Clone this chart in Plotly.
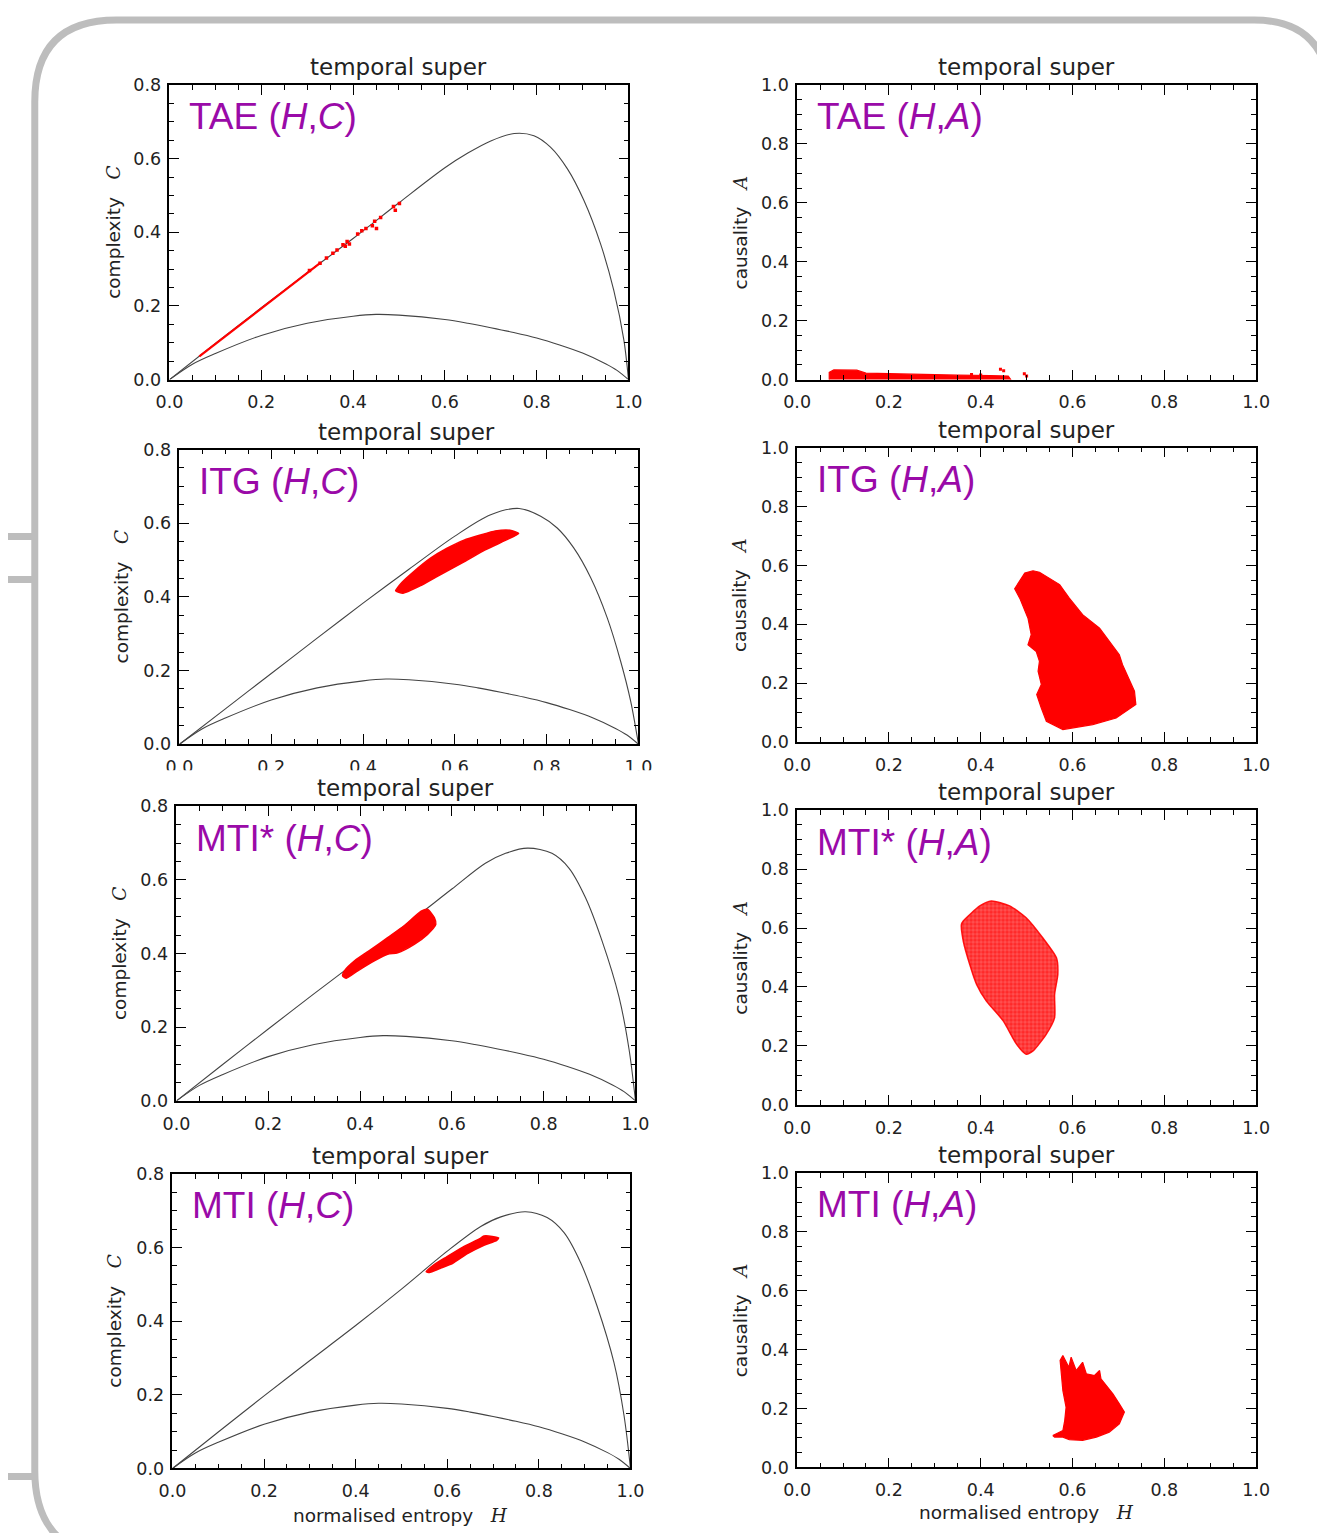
import plotly.graph_objects as go

# ---------------- data ----------------
h_tick_vals = [0.0, 0.2, 0.4, 0.6, 0.8, 1.0]
h_tick_text = ["0.0", "0.2", "0.4", "0.6", "0.8", "1.0"]
c_tick_vals = [0.0, 0.2, 0.4, 0.6, 0.8]
c_tick_text = ["0.0", "0.2", "0.4", "0.6", "0.8"]
a_tick_vals = [0.0, 0.2, 0.4, 0.6, 0.8, 1.0]
a_tick_text = ["0.0", "0.2", "0.4", "0.6", "0.8", "1.0"]

cases = ["TAE", "ITG", "MTI*", "MTI"]
panel_title = "temporal super"

# minimum-complexity bound (same in every (H,C) panel)
cmin_H = [0.0, 0.05, 0.1, 0.2, 0.3, 0.4, 0.45, 0.5, 0.6, 0.65, 0.7, 0.75, 0.8, 0.85, 0.9, 0.95, 0.975, 1.0]
cmin_C = [0.0, 0.042, 0.071, 0.12, 0.153, 0.172, 0.177, 0.175, 0.163, 0.153, 0.141, 0.128, 0.113,
          0.094, 0.072, 0.043, 0.025, 0.0]

# maximum-complexity bound per panel
cmax_H_tae = [0.0, 0.1, 0.2, 0.3, 0.4, 0.5, 0.6, 0.65, 0.7, 0.751, 0.794, 0.83, 0.867, 0.903, 0.939, 0.968, 0.99, 1.0]
cmax_C_tae = [0.0, 0.098, 0.195, 0.29, 0.383, 0.48, 0.575, 0.615, 0.648, 0.668, 0.662, 0.631, 0.572, 0.486, 0.369, 0.242, 0.107, 0.0]
cmax_H_itg = [0.0, 0.1, 0.2, 0.3, 0.4, 0.5, 0.6, 0.678, 0.74, 0.787, 0.823, 0.859, 0.896, 0.932, 0.961, 0.983, 1.0]
cmax_C_itg = [0.0, 0.096, 0.192, 0.288, 0.383, 0.475, 0.565, 0.623, 0.64, 0.619, 0.587, 0.533, 0.452, 0.343, 0.226, 0.117, 0.0]
cmax_H_mtis = [0.0, 0.1, 0.2, 0.3, 0.4, 0.5, 0.6, 0.673, 0.717, 0.765, 0.818, 0.855, 0.891, 0.927, 0.964, 0.986, 1.0]
cmax_C_mtis = [0.0, 0.098, 0.195, 0.291, 0.385, 0.478, 0.575, 0.645, 0.672, 0.686, 0.672, 0.632, 0.552, 0.435, 0.283, 0.14, 0.0]
cmax_H_mti = [0.0, 0.1, 0.2, 0.3, 0.4, 0.5, 0.6, 0.673, 0.717, 0.771, 0.818, 0.855, 0.891, 0.927, 0.964, 0.986, 1.0]
cmax_C_mti = [0.0, 0.099, 0.197, 0.293, 0.388, 0.487, 0.59, 0.657, 0.683, 0.697, 0.681, 0.64, 0.559, 0.441, 0.287, 0.143, 0.0]

# TAE (H,C): thin red trail along the upper bound plus scattered dots
tae_hc_line_H = [0.065, 0.33]
tae_hc_line_C = [0.063, 0.318]
tae_hc_dots_H = [0.305, 0.328, 0.342, 0.356, 0.365, 0.378, 0.387, 0.383, 0.392, 0.41, 0.419,
                 0.428, 0.442, 0.447, 0.451, 0.46, 0.488, 0.492, 0.501]
tae_hc_dots_C = [0.296, 0.316, 0.33, 0.343, 0.352, 0.366, 0.375, 0.362, 0.368, 0.395, 0.404,
                 0.41, 0.418, 0.43, 0.41, 0.44, 0.47, 0.46, 0.478]

# TAE (H,A): low band near A=0
tae_ha_H = [0.07, 0.07, 0.08, 0.13, 0.15, 0.25, 0.35, 0.42, 0.46, 0.47, 0.07]
tae_ha_A = [-0.01, 0.025, 0.033, 0.032, 0.022, 0.018, 0.015, 0.014, 0.012, -0.01, -0.01]
tae_ha_dots_H = [0.443, 0.45, 0.495, 0.5, 0.38, 0.40]
tae_ha_dots_A = [0.035, 0.03, 0.02, 0.012, 0.017, 0.016]

# ITG clouds (outlines)
itg_hc_H = [0.471, 0.487, 0.528, 0.574, 0.62, 0.665, 0.711, 0.739, 0.72, 0.688, 0.656, 0.62,
            0.583, 0.547, 0.51, 0.483, 0.474, 0.471]
itg_hc_C = [0.417, 0.41, 0.432, 0.464, 0.495, 0.527, 0.554, 0.572, 0.581, 0.579, 0.568, 0.554,
            0.532, 0.505, 0.468, 0.437, 0.423, 0.417]
itg_ha_H = [0.514, 0.496, 0.474, 0.485, 0.503, 0.51, 0.503, 0.521, 0.528, 0.525, 0.532, 0.522,
            0.532, 0.543, 0.579, 0.644, 0.695, 0.738, 0.735, 0.709, 0.702, 0.659, 0.622, 0.593,
            0.572, 0.55, 0.528, 0.514]
itg_ha_A = [0.582, 0.574, 0.521, 0.489, 0.421, 0.365, 0.331, 0.308, 0.275, 0.241, 0.196, 0.162,
            0.116, 0.071, 0.043, 0.06, 0.082, 0.128, 0.173, 0.263, 0.297, 0.387, 0.433, 0.489,
            0.535, 0.557, 0.577, 0.582]

# MTI* clouds
mtis_hc_H = [0.362, 0.366, 0.388, 0.424, 0.46, 0.496, 0.533, 0.547, 0.562, 0.565, 0.547, 0.518,
             0.482, 0.46, 0.431, 0.395, 0.37, 0.362]
mtis_hc_C = [0.339, 0.353, 0.38, 0.411, 0.443, 0.475, 0.515, 0.52, 0.497, 0.479, 0.452, 0.425,
             0.402, 0.398, 0.38, 0.353, 0.333, 0.339]
mtis_ha_H = [0.362, 0.398, 0.423, 0.463, 0.499, 0.535, 0.565, 0.568, 0.561, 0.561, 0.543, 0.514,
             0.499, 0.478, 0.449, 0.412, 0.391, 0.376, 0.362, 0.358, 0.362]
mtis_ha_A = [0.624, 0.675, 0.692, 0.675, 0.635, 0.567, 0.499, 0.443, 0.375, 0.296, 0.24, 0.183,
             0.172, 0.206, 0.285, 0.353, 0.409, 0.477, 0.556, 0.612, 0.624]

# MTI clouds
mti_hc_H = [0.554, 0.57, 0.598, 0.634, 0.671, 0.68, 0.698, 0.712, 0.708, 0.68, 0.644, 0.612,
            0.584, 0.561, 0.554]
mti_hc_C = [0.534, 0.552, 0.574, 0.601, 0.624, 0.631, 0.63, 0.626, 0.619, 0.606, 0.583, 0.557,
            0.543, 0.532, 0.534]
mti_ha_H = [0.557, 0.579, 0.583, 0.586, 0.579, 0.573, 0.579, 0.592, 0.597, 0.608, 0.622, 0.63,
            0.648, 0.659, 0.662, 0.688, 0.702, 0.713, 0.702, 0.68, 0.652, 0.622, 0.593, 0.579,
            0.561, 0.557]
mti_ha_A = [0.108, 0.125, 0.159, 0.204, 0.261, 0.363, 0.38, 0.34, 0.374, 0.329, 0.357, 0.318,
            0.312, 0.329, 0.301, 0.25, 0.216, 0.188, 0.148, 0.12, 0.103, 0.092, 0.094, 0.103,
            0.103, 0.108]

# ---------------- layout geometry (reference pixels) ----------------
W, HT = 1325, 1533
# observed placement of the figure in the photographed page (offset, scale)
OFF_X, SC_X = 20.2, 0.981
OFF_Y, SC_Y = 16.0, 0.988
hc_boxes = [(168, 628, 83, 378), (178, 638, 448, 743), (175, 635, 805, 1100), (171, 630, 1173, 1468)]
ha_boxes = [(797, 1257, 83, 378), (797, 1257, 446, 741), (797, 1257, 809, 1104), (797, 1257, 1172, 1467)]
hc_title_pos = [(398, 65), (406, 430), (405, 787), (400, 1155)]
ha_title_pos = [(1027, 65), (1027, 428), (1027, 791), (1027, 1154)]
hc_ytitle_x = [112, 120, 118, 113]
ha_ytitle_x = [740, 740, 740, 740]


def X(px):
    return (px - OFF_X) / SC_X / W


def Y(py):
    return 1 - (py - OFF_Y) / SC_Y / HT


RED = "#ff0000"
PURPLE = "#9a0aa8"
TXT = "#222222"
TICKFONT = dict(family="DejaVu Sans", size=17.5, color=TXT)

fig = go.Figure()

cmax_H = [cmax_H_tae, cmax_H_itg, cmax_H_mtis, cmax_H_mti]
cmax_C = [cmax_C_tae, cmax_C_itg, cmax_C_mtis, cmax_C_mti]
hc_clouds = [None, (itg_hc_H, itg_hc_C), (mtis_hc_H, mtis_hc_C), (mti_hc_H, mti_hc_C)]
ha_clouds = [(tae_ha_H, tae_ha_A), (itg_ha_H, itg_ha_A), (mtis_ha_H, mtis_ha_A), (mti_ha_H, mti_ha_A)]

annotations = []
layout_axes = {}


def axis_common(vals, text, rng, standoff):
    return dict(range=rng, tickvals=vals, ticktext=text, ticks="inside", ticklen=10,
                tickwidth=1.3, tickcolor="black", showline=True, linecolor="black",
                linewidth=1.6, mirror="ticks", showgrid=False, zeroline=False,
                tickfont=TICKFONT, ticklabelstandoff=standoff,
                minor=dict(dtick=0.05, tick0=0, ticks="inside", ticklen=5,
                           tickwidth=1.2, tickcolor="black", showgrid=False))


for i in range(4):
    for side in range(2):
        n = 2 * i + side + 1
        xa = "x" if n == 1 else f"x{n}"
        ya = "y" if n == 1 else f"y{n}"
        box = hc_boxes[i] if side == 0 else ha_boxes[i]
        xd = [X(box[0]), X(box[1])]
        yd = [Y(box[3]), Y(box[2])]
        xkey = "xaxis" if n == 1 else f"xaxis{n}"
        ykey = "yaxis" if n == 1 else f"yaxis{n}"
        xdict = axis_common(h_tick_vals, h_tick_text, [0, 1], 6)
        xdict.update(domain=xd, anchor=ya)
        if side == 0:
            ydict = axis_common(c_tick_vals, c_tick_text, [0, 0.8], 3)
        else:
            ydict = axis_common(a_tick_vals, a_tick_text, [0, 1.0], 3)
        ydict.update(domain=yd, anchor=xa)
        layout_axes[xkey] = xdict
        layout_axes[ykey] = ydict

        if side == 0:
            fig.add_trace(go.Scatter(x=cmin_H, y=cmin_C, mode="lines", xaxis=xa, yaxis=ya,
                                     line=dict(color="#444444", width=1.1, shape="spline", smoothing=0.9),
                                     showlegend=False, hoverinfo="skip"))
            fig.add_trace(go.Scatter(x=cmax_H[i], y=cmax_C[i], mode="lines", xaxis=xa, yaxis=ya,
                                     line=dict(color="#444444", width=1.1, shape="spline", smoothing=0.9),
                                     showlegend=False, hoverinfo="skip"))
            if i == 0:
                fig.add_trace(go.Scatter(x=tae_hc_line_H, y=tae_hc_line_C, mode="lines", xaxis=xa, yaxis=ya,
                                         line=dict(color=RED, width=2.2), showlegend=False))
                fig.add_trace(go.Scatter(x=tae_hc_dots_H, y=tae_hc_dots_C, mode="markers", xaxis=xa, yaxis=ya,
                                         marker=dict(color=RED, size=3.5, symbol="square"), showlegend=False))
            else:
                hh, cc = hc_clouds[i]
                fig.add_trace(go.Scatter(x=hh, y=cc, mode="lines", fill="toself", fillcolor=RED,
                                         line=dict(color=RED, width=1.5, shape="spline", smoothing=0.6),
                                         xaxis=xa, yaxis=ya, showlegend=False))
        else:
            hh, aa = ha_clouds[i]
            if i == 2:
                fig.add_trace(go.Scatter(x=hh, y=aa, mode="lines", fill="toself",
                                         fillcolor="rgba(255,30,30,0.85)",
                                         fillpattern=dict(shape=".", fgcolor=RED,
                                                          bgcolor="rgba(255,45,45,0.82)",
                                                          size=4, solidity=0.6),
                                         line=dict(color="rgba(255,0,0,0.9)", width=1.5, shape="spline", smoothing=0.6),
                                         xaxis=xa, yaxis=ya, showlegend=False))
            else:
                fig.add_trace(go.Scatter(x=hh, y=aa, mode="lines", fill="toself", fillcolor=RED,
                                         line=dict(color=RED, width=1.2),
                                         xaxis=xa, yaxis=ya, showlegend=False))
            if i == 0:
                fig.add_trace(go.Scatter(x=tae_ha_dots_H, y=tae_ha_dots_A, mode="markers", xaxis=xa, yaxis=ya,
                                         marker=dict(color=RED, size=3, symbol="square"), showlegend=False))

        # panel header "temporal super"
        tp = hc_title_pos[i] if side == 0 else ha_title_pos[i]
        annotations.append(dict(x=X(tp[0]), y=Y(tp[1]), xref="paper", yref="paper", text=panel_title,
                                showarrow=False, xanchor="center", yanchor="middle",
                                font=dict(family="DejaVu Sans", size=23, color=TXT)))
        # y-axis title
        yx = hc_ytitle_x[i] if side == 0 else ha_ytitle_x[i]
        if side == 0:
            ytxt = "complexity&nbsp;&nbsp;&nbsp;<span style='font-family:DejaVu Serif'><i>C</i></span>"
        else:
            ytxt = "causality&nbsp;&nbsp;&nbsp;<span style='font-family:DejaVu Serif'><i>A</i></span>"
        annotations.append(dict(x=X(yx), y=Y((box[2] + box[3]) / 2), xref="paper", yref="paper",
                                text=ytxt, textangle=-90, showarrow=False,
                                xanchor="center", yanchor="middle",
                                font=dict(family="DejaVu Sans", size=18.5, color=TXT)))
        # purple label
        var = "C" if side == 0 else "A"
        annotations.append(dict(x=X(box[0] + 18), y=Y(box[2] + 32), xref="paper", yref="paper",
                                text=f"{cases[i]} (<i>H</i>,<i>{var}</i>)", showarrow=False,
                                xanchor="left", yanchor="middle",
                                font=dict(family="Liberation Sans", size=37, color=PURPLE)))

# bottom x titles
for cx, cy in [(400, 1515), (1027, 1512)]:
    annotations.append(dict(x=X(cx), y=Y(cy), xref="paper", yref="paper",
                            text="normalised entropy&nbsp;&nbsp;&nbsp;<span style='font-family:DejaVu Serif'><i>H</i></span>",
                            showarrow=False, xanchor="center", yanchor="middle",
                            font=dict(family="DejaVu Sans", size=18.5, color=TXT)))

# slide decorations
GRAY = "#bdbdbd"


def P(px, py):
    return f"{X(px):.5f},{Y(py):.5f}"


border = (f"M {P(130, 1560)} Q {P(33, 1560)} {P(33, 1470)} L {P(33, 100)} "
          f"Q {P(33, 18)} {P(115, 18)} L {P(1255, 18)} Q {P(1328, 18)} {P(1332, 95)} L {P(1332, 1560)}")
shapes = [
    dict(type="path", path=border, xref="paper", yref="paper", line=dict(color=GRAY, width=7), layer="below"),
    dict(type="line", x0=X(-5), x1=X(33), y0=Y(535), y1=Y(535), xref="paper", yref="paper",
         line=dict(color=GRAY, width=7), layer="below"),
    dict(type="line", x0=X(-5), x1=X(33), y0=Y(578), y1=Y(578), xref="paper", yref="paper",
         line=dict(color=GRAY, width=7), layer="below"),
    dict(type="line", x0=X(-5), x1=X(33), y0=Y(1476), y1=Y(1476), xref="paper", yref="paper",
         line=dict(color=GRAY, width=7), layer="below"),
    dict(type="rect", x0=X(937), x1=X(1240), y0=Y(6), y1=Y(-3), xref="paper", yref="paper",
         fillcolor="#ffff00", line=dict(width=0), layer="below"),
    # the reference clips the lower half of the ITG (H,C) x tick labels
    dict(type="rect", x0=X(140), x1=X(665), y0=Y(778), y1=Y(769), xref="paper", yref="paper",
         fillcolor="white", line=dict(width=0), layer="above"),
]

fig.update_layout(width=W, height=HT, margin=dict(l=0, r=0, t=0, b=0),
                  paper_bgcolor="white", plot_bgcolor="white",
                  annotations=annotations, shapes=shapes, showlegend=False, **layout_axes)

fig.write_html("out.html")
